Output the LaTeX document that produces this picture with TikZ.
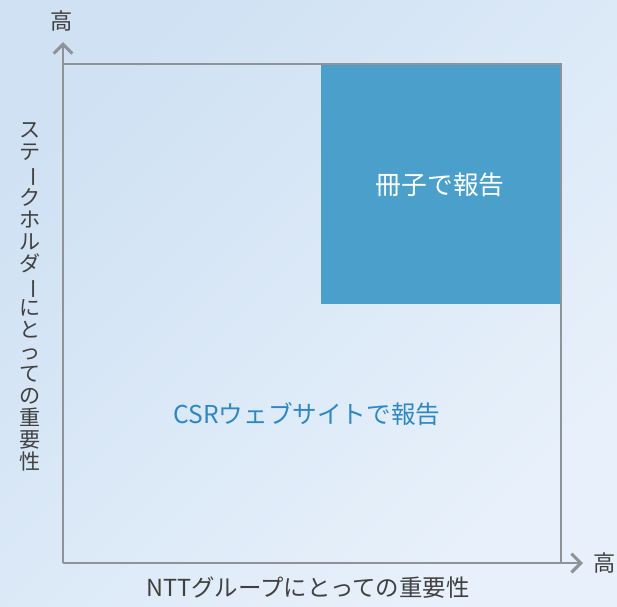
\documentclass[tikz,border=0pt]{standalone}
\usepackage{fontspec}
\usepackage{graphicx}
\setmainfont{Noto Sans CJK JP}
\usetikzlibrary{arrows.meta}
\definecolor{axisgray}{HTML}{8F9296}
\definecolor{boxblue}{HTML}{4A9FCB}
\definecolor{labelblue}{HTML}{2F87C2}
\definecolor{bgtop}{HTML}{CFE1F3}
\definecolor{bgbot}{HTML}{E8F1FB}
\newcommand{\chouon}{\rotatebox[origin=c]{-90}{ー}}

\begin{document}
\begin{tikzpicture}[x=0.03cm,y=-0.03cm,
    axis/.style={draw=axisgray,line width=2.4pt,-{Straight Barb[length=8pt,width=16pt,line width=2.6pt]}},
    frame/.style={draw=axisgray,line width=1.6pt}]
  % background
  \shade[left color=bgtop,right color=bgbot,shading angle=45] (0,0) rectangle (617,606);
  \useasboundingbox (0,0) rectangle (617,606);
  % corners of the chart
  \coordinate (o) at (63,563);
  \coordinate (tl) at (63,64);
  \coordinate (tr) at (561,64);
  \coordinate (br) at (561,563);
  \coordinate (ytip) at (63,42);
  \coordinate (xtip) at (583,563);
  % booklet area
  \node[fill=boxblue,minimum width=7.17cm,minimum height=7.17cm,inner sep=0pt,anchor=north east,
        text=white,font=\fontsize{22}{26}\selectfont](booklet) at (560,65){冊子で報告};
  \draw[frame] (tl) -- (tr) -- (br);
  \draw[axis] (o) -- (ytip);
  \draw[axis] (o) -- (xtip);
  % labels
  \node[text=labelblue,font=\fontsize{21}{25}\selectfont](web) at (307,414){CSRウェブサイトで報告};
  \node[text=black!75,font=\fontsize{19}{22}\selectfont,anchor=south](yhigh) at (62,35){高};
  \node[text=black!75,font=\fontsize{19}{22}\selectfont,anchor=west](xhigh) at (589,563){高};
  \node[text=black!75,font=\fontsize{20}{24}\selectfont](xlabel) at (308,588){NTTグループにとっての重要性};
  \node[text=black!75,font=\fontsize{18}{18.8}\selectfont,align=center,inner sep=0pt](ylabel) at (30,297)
    {ス\\テ\\\chouon\\ク\\ホ\\ル\\ダ\\\chouon\\に\\と\\っ\\て\\の\\重\\要\\性};
\end{tikzpicture}
\end{document}
